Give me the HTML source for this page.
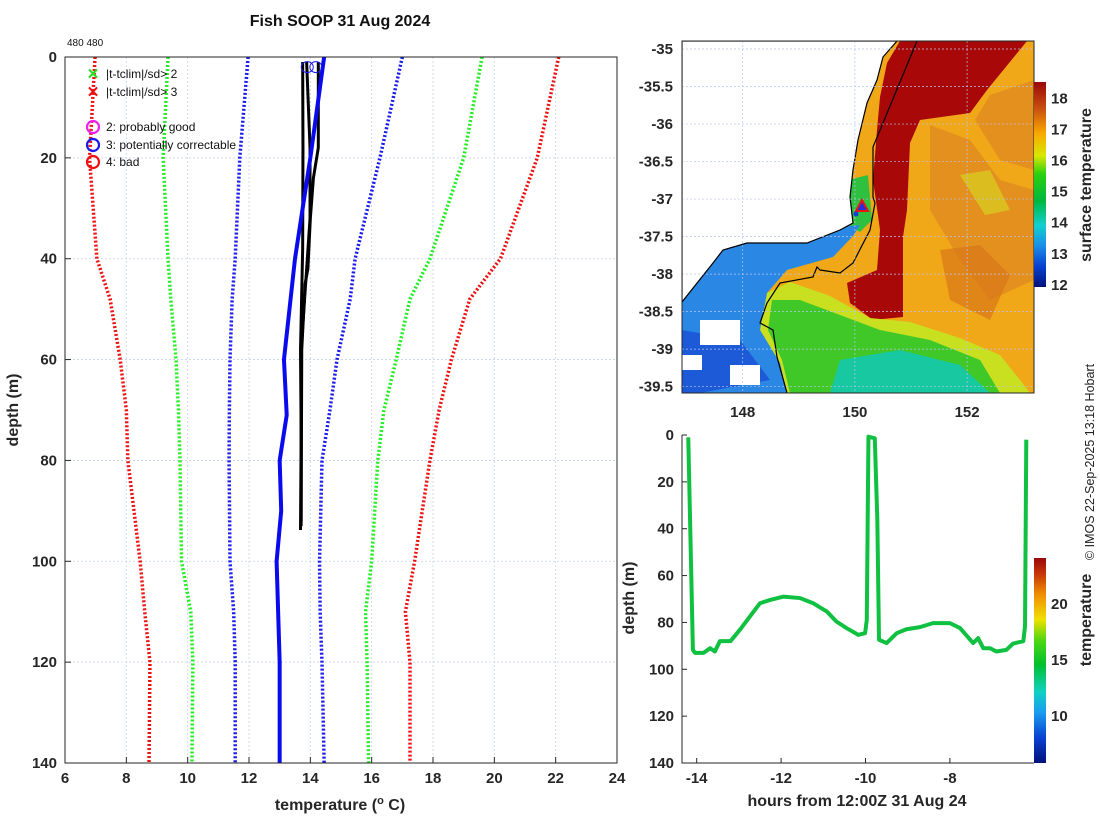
<!DOCTYPE html>
<html><head><meta charset="utf-8">
<style>
html,body{margin:0;padding:0;background:#fff;}
svg{display:block;font-family:"Liberation Sans",sans-serif;}
.tk{font-size:15px;font-weight:bold;fill:#262626;}
.lab{font-size:16px;font-weight:bold;fill:#262626;}
</style></head>
<body>
<svg id="fig" width="1100" height="820" viewBox="0 0 1100 820">
<defs>
<linearGradient id="cbMap" x1="0" y1="1" x2="0" y2="0">
<stop offset="0" stop-color="#00127a"/><stop offset="0.1" stop-color="#0a3fd0"/><stop offset="0.2" stop-color="#1a8ee8"/>
<stop offset="0.3" stop-color="#10d0d0"/><stop offset="0.42" stop-color="#00b840"/><stop offset="0.55" stop-color="#2ad010"/>
<stop offset="0.64" stop-color="#d8e800"/><stop offset="0.75" stop-color="#f8a800"/><stop offset="0.87" stop-color="#c85010"/><stop offset="1" stop-color="#9a0808"/>
</linearGradient>
<linearGradient id="cbT" x1="0" y1="1" x2="0" y2="0">
<stop offset="0" stop-color="#00127a"/><stop offset="0.12" stop-color="#0a3fd0"/><stop offset="0.25" stop-color="#1a9ef0"/>
<stop offset="0.35" stop-color="#10d0c0"/><stop offset="0.48" stop-color="#00c030"/><stop offset="0.6" stop-color="#50d810"/>
<stop offset="0.7" stop-color="#f0e000"/><stop offset="0.82" stop-color="#f09000"/><stop offset="0.92" stop-color="#c83808"/><stop offset="1" stop-color="#980808"/>
</linearGradient>
<clipPath id="mapClip"><rect x="682" y="41" width="352" height="352"/></clipPath>
<clipPath id="leftClip"><rect x="65" y="57" width="552" height="706"/></clipPath>
</defs>

<text x="340" y="26" text-anchor="middle" font-size="16" font-weight="bold" fill="#111">Fish SOOP 31 Aug 2024</text>
<text x="67" y="46" font-size="10" fill="#111">480 480</text>

<g id="left"></g>
<g id="map"></g>
<g id="bot"></g>

<text transform="translate(1094,462) rotate(-90)" text-anchor="middle" font-size="12.5" fill="#222">© IMOS 22-Sep-2025 13:18 Hobart</text>
</svg>
<script>
// ---------- Left profile plot data ----------
const profDepths = [0,20,40,48,60,70,80,100,110,120,140];
const redLeft    = [6.98,6.8,7.04,7.47,7.8,8.0,8.05,8.45,8.6,8.77,8.74];
const greenLeft  = [9.36,9.2,9.36,9.45,9.62,9.7,9.75,9.8,10.1,10.17,10.14];
const blueLeft   = [11.97,11.7,11.55,11.45,11.38,11.36,11.35,11.38,11.5,11.55,11.55];
const blueRight  = [17.0,16.27,15.46,15.3,14.87,14.64,14.38,14.3,14.32,14.38,14.45];
const greenRight = [19.6,19.0,17.9,17.25,16.8,16.4,16.2,16.0,15.8,15.85,15.9];
const redRight   = [22.1,21.4,20.2,19.2,18.6,18.2,17.9,17.4,17.1,17.25,17.25];
const meanDepths = [0,20,40,60,71,80,90,100,120,140];
const meanTemp   = [14.45,14.0,13.5,13.14,13.23,13.0,13.05,12.9,13.0,13.0];
const blackA_d = [1,18,38,58,75,93.8];
const blackA_t = [13.75,13.76,13.75,13.68,13.7,13.68];
const blackB_d = [1,18,32,42,58,93];
const blackB_t = [13.88,13.99,13.99,13.88,13.7,13.7];
const blackC_d = [1,18,24,32,42,45,58,92];
const blackC_t = [14.26,14.26,14.1,14.0,13.92,13.83,13.72,13.7];
const circleT = [13.9,14.18];
const circleD = [2,2];
const xTicksL = [6,8,10,12,14,16,18,20,22,24];
const yTicksL = [0,20,40,60,80,100,120,140];

// ---------- Bottom plot data ----------
const trackHours = [-14.2,-14.09,-14.04,-13.84,-13.68,-13.57,-13.45,-13.2,-12.97,-12.74,-12.5,-12.26,-11.95,-11.55,-11.24,-10.92,-10.69,-10.45,-10.17,-10.01,-9.97,-9.93,-9.78,-9.72,-9.68,-9.5,-9.26,-9.03,-8.71,-8.4,-8.0,-7.76,-7.45,-7.33,-7.21,-7.05,-6.9,-6.66,-6.5,-6.26,-6.22,-6.19];
const trackDepth = [1,91.7,93,93,91,92.4,88,88,83,77.5,71.8,70.4,69,69.6,71.8,75.3,79.6,82.4,85.3,84.6,79,0.7,1.4,36,87.4,88.8,84.6,82.9,82,80.3,80.3,82.4,88.8,86.7,91,91,92.4,91.7,89,88,81.7,2];
const xTicksB = [-14,-12,-10,-8];
const yTicksB = [0,20,40,60,80,100,120,140];
const cbTicksB = [10,15,20];

// ---------- Map ----------
const lonTicks = [148,150,152];
const latTicks = [-35,-35.5,-36,-36.5,-37,-37.5,-38,-38.5,-39,-39.5];
const cbTicksMap = [12,13,14,15,16,17,18];

const NS="http://www.w3.org/2000/svg";
function mk(parent,tag,attrs,text){const e=document.createElementNS(NS,tag);for(const k in attrs)e.setAttribute(k,attrs[k]);if(text!==undefined)e.textContent=text;parent.appendChild(e);return e;}

// ===== Left =====
const L=document.getElementById('left');
const xL=t=>65+(t-6)*552/18, yL=d=>57+d*706/140;
xTicksL.forEach(t=>{
  const g=mk(L,'line',{x1:xL(t),x2:xL(t),y1:57,y2:763,stroke:'#c6d2ee','stroke-width':0.8,'stroke-dasharray':'2 2'});
  
  
  const tx=mk(L,'text',{x:xL(t),y:783,'text-anchor':'middle',class:'tk'},String(t));
  
  
  mk(L,'line',{x1:xL(t),x2:xL(t),y1:763,y2:757,stroke:'#262626'});
});
yTicksL.forEach(d=>{
  const g=mk(L,'line',{x1:65,x2:617,y1:yL(d),y2:yL(d),stroke:'#c6d2ee','stroke-width':0.8,'stroke-dasharray':'2 2'});
  
  
  const tx=mk(L,'text',{x:57,y:yL(d)+5,'text-anchor':'end',class:'tk'},String(d));
  
  
  mk(L,'line',{x1:65,x2:71,y1:yL(d),y2:yL(d),stroke:'#262626'});
});
const lg=mk(L,'g',{'clip-path':'url(#leftClip)'});
function prof(ts,ds,color,w,dash,name){
  const p=mk(lg,'polyline',{points:ts.map((t,i)=>xL(t)+','+yL(ds[i])).join(' '),fill:'none',stroke:color,'stroke-width':w,'stroke-linejoin':'round'});
  if(dash)p.setAttribute('stroke-dasharray',dash);
  
  
}
prof(redLeft,profDepths,'#ee1111',3.5,'2 2','clim-minus-3sd-line');
prof(greenLeft,profDepths,'#22ee22',3.5,'2 2','clim-minus-2sd-line');
prof(blueLeft,profDepths,'#1a1aee',3.5,'2 2','clim-minus-1sd-line');
prof(blueRight,profDepths,'#1a1aee',3.5,'2 2','clim-plus-1sd-line');
prof(greenRight,profDepths,'#22ee22',3.5,'2 2','clim-plus-2sd-line');
prof(redRight,profDepths,'#ee1111',3.5,'2 2','clim-plus-3sd-line');
prof(blackA_t,blackA_d,'#000',3,null,'profile-a');
prof(blackB_t,blackB_d,'#000',3,null,'profile-b');
prof(blackC_t,blackC_d,'#000',3,null,'profile-c');
prof(meanTemp,meanDepths,'#0a0aee',4,null,'climatology-mean-line');
circleT.forEach((t,i)=>{
  const c=mk(lg,'ellipse',{cx:xL(t),cy:yL(circleD[i]),rx:6,ry:5.5,fill:'none',stroke:'#1a1aee','stroke-width':1});
  
  
});
mk(L,'rect',{x:65,y:57,width:552,height:706,fill:'none',stroke:'#262626','stroke-width':1});
// legend
const LG=mk(L,'g',{});


mk(LG,'text',{x:93,y:79,'text-anchor':'middle','font-size':15,'font-weight':'bold',fill:'#22dd22'},'✕');
mk(LG,'text',{x:106,y:78,'font-size':12,fill:'#111'},'|t-tclim|/sd> 2');
mk(LG,'text',{x:93,y:97,'text-anchor':'middle','font-size':15,'font-weight':'bold',fill:'#ee1111'},'✕');
mk(LG,'text',{x:106,y:96,'font-size':12,fill:'#111'},'|t-tclim|/sd> 3');
[['#ee22ee','2: probably good',127],['#1a1aee','3: potentially correctable',145],['#ee1111','4: bad',162]].forEach(a=>{
  mk(LG,'circle',{cx:93,cy:a[2],r:6,fill:'none',stroke:a[0],'stroke-width':2.2});
  mk(LG,'text',{x:106,y:a[2]+4,'font-size':12,fill:'#111'},a[1]);
});
mk(L,'text',{transform:'translate(18,410) rotate(-90)','text-anchor':'middle',class:'lab'},'depth (m)');
const xl=mk(L,'text',{x:340,y:810,'text-anchor':'middle',class:'lab'});
xl.innerHTML='temperature (<tspan dy="-6" font-size="11">o</tspan><tspan dy="6"> C)</tspan>';

// ===== Map =====
const M=document.getElementById('map');
const xM=lo=>742.7+(lo-148)*56.1, yM=la=>49+(-35-la)*75.04;
const mg=mk(M,'g',{'clip-path':'url(#mapClip)'});
mk(mg,'rect',{x:682,y:41,width:352,height:352,fill:'#f0a818'});
mk(mg,'polygon',{points:'930,125 970,140 1000,180 1034,190 1034,280 990,300 960,260 930,210',fill:'#e08a20',opacity:0.8});
mk(mg,'polygon',{points:'990,95 1034,80 1034,170 1000,160 975,120',fill:'#e08a20',opacity:0.8});
mk(mg,'polygon',{points:'940,250 980,245 1010,275 990,320 950,300',fill:'#d87818',opacity:0.7});
mk(mg,'polygon',{points:'960,175 990,170 1010,210 985,215',fill:'#d8d020',opacity:0.7});
mk(mg,'polygon',{points:'900,41 1027,41 987,90 970,113 920,120 910,143 907,210 903,237 903,317 873,320 850,303 847,283 877,270 880,230 873,180 877,130 880,97 887,63',fill:'#a80808'});
mk(mg,'polygon',{points:'767,293 790,282 830,296 870,318 910,322 960,338 1000,355 1020,380 1030,393 787,393 780,363 760,330',fill:'#c8e020'});
mk(mg,'polygon',{points:'772,300 800,300 840,315 880,330 930,340 980,360 1000,393 790,393 782,360 768,330',fill:'#40c828'});
mk(mg,'polygon',{points:'840,360 900,350 960,365 990,393 830,393',fill:'#18c8a0'});
mk(mg,'polygon',{points:'848,180 868,175 872,220 860,232 848,225',fill:'#30c040'});
mk(mg,'polygon',{points:'700,240 860,225 853,236 833,257 787,270 767,293 760,330 780,363 787,393 682,393 682,303',fill:'#2a88e4'});
mk(mg,'polygon',{points:'682,330 740,340 770,380 700,393 682,393',fill:'#1c5ad8'});
mk(mg,'rect',{x:700,y:320,width:40,height:25,fill:'#fff'});
mk(mg,'rect',{x:730,y:365,width:30,height:20,fill:'#fff'});
mk(mg,'rect',{x:682,y:355,width:20,height:15,fill:'#fff'});
const land=mk(mg,'polygon',{points:'682,41 897,41 883,57 877,80 867,103 858,140 853,170 850,197 853,223 840,230 807,243 747,243 723,250 713,263 682,302',fill:'#fff',stroke:'#000','stroke-width':1.2});


const shelf=mk(mg,'polyline',{points:'917,41 873,147 873,197 875,203 870,230 853,263 840,273 820,270 817,267 813,277 780,283 767,303 760,323 773,330 777,357 787,393',fill:'none',stroke:'#000','stroke-width':1.2});


lonTicks.forEach(lo=>{
  mk(mg,'line',{x1:xM(lo),x2:xM(lo),y1:41,y2:393,stroke:'#b8c4f0','stroke-width':0.7,'stroke-dasharray':'2 2'});
  const tx=mk(M,'text',{x:xM(lo),y:417,'text-anchor':'middle',class:'tk'},String(lo));
  
  
});
latTicks.forEach(la=>{
  mk(mg,'line',{x1:682,x2:1034,y1:yM(la),y2:yM(la),stroke:'#b8c4f0','stroke-width':0.7,'stroke-dasharray':'2 2'});
  const tx=mk(M,'text',{x:673,y:yM(la)+5,'text-anchor':'end',class:'tk'},String(la));
  
  
});
const tri=mk(M,'polygon',{points:'862,200 856,211 868,211',fill:'#2030e0',stroke:'#ee1111','stroke-width':2});


mk(M,'circle',{cx:856,cy:214,r:2.5,fill:'#1040e0'});
mk(M,'rect',{x:682,y:41,width:352,height:352,fill:'none',stroke:'#262626','stroke-width':1});
const cbm=mk(M,'rect',{x:1034,y:82,width:12,height:205,fill:'url(#cbMap)'});


cbTicksMap.forEach(v=>{
  const y=98.3+(18-v)*31.1;
  mk(M,'text',{x:1051,y:y+5,class:'tk'},String(v));
});
mk(M,'text',{transform:'translate(1091,185) rotate(-90)','text-anchor':'middle',class:'lab','font-size':15},'surface temperature');

// ===== Bottom =====
const B=document.getElementById('bot');
const xB=h=>696.7+(h+14)*42.2, yB=d=>435+d*328/140;
xTicksB.forEach(h=>{
  const tx=mk(B,'text',{x:xB(h),y:783,'text-anchor':'middle',class:'tk'},String(h));
  
  
  mk(B,'line',{x1:xB(h),x2:xB(h),y1:763,y2:758,stroke:'#262626'});
});
yTicksB.forEach(d=>{
  const tx=mk(B,'text',{x:674,y:yB(d)+5,'text-anchor':'end',class:'tk'},String(d));
  
  
  mk(B,'line',{x1:682,x2:687,y1:yB(d),y2:yB(d),stroke:'#262626'});
});
mk(B,'polyline',{points:'682,435 682,763 1034,763',fill:'none',stroke:'#262626','stroke-width':1});
const tr=mk(B,'polyline',{points:trackHours.map((h,i)=>xB(h)+','+yB(trackDepth[i])).join(' '),fill:'none',stroke:'#10c040','stroke-width':4,'stroke-linejoin':'round'});


const cbb=mk(B,'rect',{x:1034,y:558,width:12,height:205,fill:'url(#cbT)'});


cbTicksB.forEach(v=>{
  const y=716-(v-10)*11.2;
  mk(B,'text',{x:1051,y:y+5,class:'tk'},String(v));
});
mk(B,'text',{transform:'translate(1091,620) rotate(-90)','text-anchor':'middle',class:'lab','font-size':15},'temperature');
mk(B,'text',{transform:'translate(634,598) rotate(-90)','text-anchor':'middle',class:'lab'},'depth (m)');
mk(B,'text',{x:857,y:806,'text-anchor':'middle',class:'lab'},'hours from 12:00Z 31 Aug 24');
</script>
</body></html>
